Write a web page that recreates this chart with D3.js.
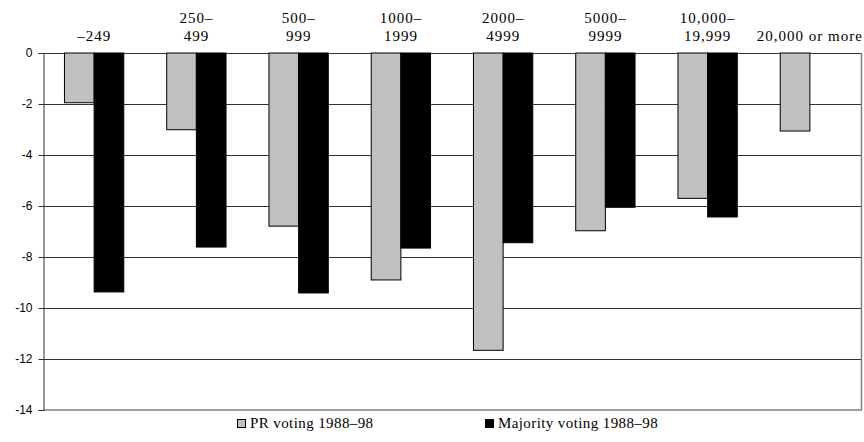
<!DOCTYPE html>
<html><head><meta charset="utf-8">
<script src="https://cdn.jsdelivr.net/npm/d3@7"></script>
<style>body{margin:0;background:#fff}svg{display:block}
.serif{font-family:'Liberation Serif','Times New Roman',serif}
.sans{font-family:'Liberation Sans',Arial,sans-serif}</style>
</head><body>
<svg id="c" width="864" height="442"></svg>
<script>
const categories = [["–249"],["250–","499"],["500–","999"],["1000–","1999"],["2000–","4999"],["5000–","9999"],["10,000–","19,999"],["20,000 or more"]];
const prValues = [-1.95, -3.01, -6.79, -8.9, -11.66, -6.97, -5.70, -3.06];
const majorityValues = [-9.37, -7.61, -9.41, -7.65, -7.44, -6.05, -6.43, null];
const seriesNames = ["PR voting 1988–98", "Majority voting 1988–98"];
const seriesColors = ["#c0c0c0", "#000000"];
const yTicks = [0, -2, -4, -6, -8, -10, -12, -14];

(function () {
const svg = d3.select("#c");
const pLeft = 43, pRight = 861, pTop = 53, pBottom = 410;
const y = d3.scaleLinear().domain([-14, 0]).range([pBottom, pTop]);
const x = d3.scaleBand().domain(d3.range(categories.length)).range([pLeft, pRight]).paddingInner(0.42).paddingOuter(0.21);
const xs = d3.scaleBand().domain([0, 1]).range([0, x.bandwidth()]);

// gridlines
svg.append("g").selectAll("line").data(yTicks.filter(t => t !== -14)).join("line")
  .attr("x1", pLeft).attr("x2", pRight).attr("y1", d => Math.round(y(d)) + 0.5).attr("y2", d => Math.round(y(d)) + 0.5)
  .attr("stroke", "#333").attr("stroke-width", 1);
// bottom and right border
svg.append("line").attr("x1", pLeft).attr("x2", pRight + 1).attr("y1", pBottom).attr("y2", pBottom).attr("stroke", "#808080").attr("stroke-width", 1.5);
svg.append("line").attr("x1", pRight + 0.5).attr("x2", pRight + 0.5).attr("y1", pTop).attr("y2", pBottom).attr("stroke", "#808080").attr("stroke-width", 1.5);

// bars
const series = [prValues, majorityValues];
series.forEach((vals, si) => {
  svg.append("g").selectAll("rect").data(vals.map((v, i) => ({v, i})).filter(d => d.v !== null)).join("rect")
    .attr("x", d => x(d.i) + xs(si))
    .attr("width", xs.bandwidth())
    .attr("y", d => y(0))
    .attr("height", d => y(d.v) - y(0))
    .attr("fill", seriesColors[si])
    .attr("stroke", "#000").attr("stroke-width", 1);
});

// y axis
const yAxis = d3.axisLeft(y).tickValues(yTicks).tickSize(5).tickPadding(6).tickFormat(d3.format("d"));
const ga = svg.append("g").attr("transform", `translate(${pLeft + 0.5},0)`).call(yAxis);
ga.attr("font-family", null).attr("font-size", null);
ga.select(".domain").attr("stroke", "#333");
ga.selectAll(".tick line").attr("stroke", "#333");
ga.selectAll(".tick text").attr("class", "sans").style("font-size", "12px").attr("fill", "#000").text(d => d === 0 ? "0" : "-" + Math.abs(d));

// category labels
categories.forEach((lines, i) => {
  const cx = x(i) + x.bandwidth() / 2;
  const t = svg.append("text").attr("class", "serif").attr("text-anchor", "middle").style("font-size", "15px").style("letter-spacing", "1px").attr("fill", "#000");
  const baselines = lines.length === 2 ? [23, 40.5] : [40.5];
  lines.forEach((l, j) => t.append("tspan").attr("x", cx).attr("y", baselines[j]).text(l));
});

// legend
const legendX = [237, 485];
seriesNames.forEach((n, i) => {
  svg.append("rect").attr("x", legendX[i] + 0.5).attr("y", 419.5).attr("width", 8).attr("height", 8)
    .attr("fill", seriesColors[i]).attr("stroke", "#000").attr("stroke-width", 1);
  svg.append("text").attr("class", "serif").attr("x", legendX[i] + 13).attr("y", 427.5).style("font-size", "15px").style("letter-spacing", "0.4px").attr("fill", "#000").text(n);
});
})();
</script>
</body></html>
